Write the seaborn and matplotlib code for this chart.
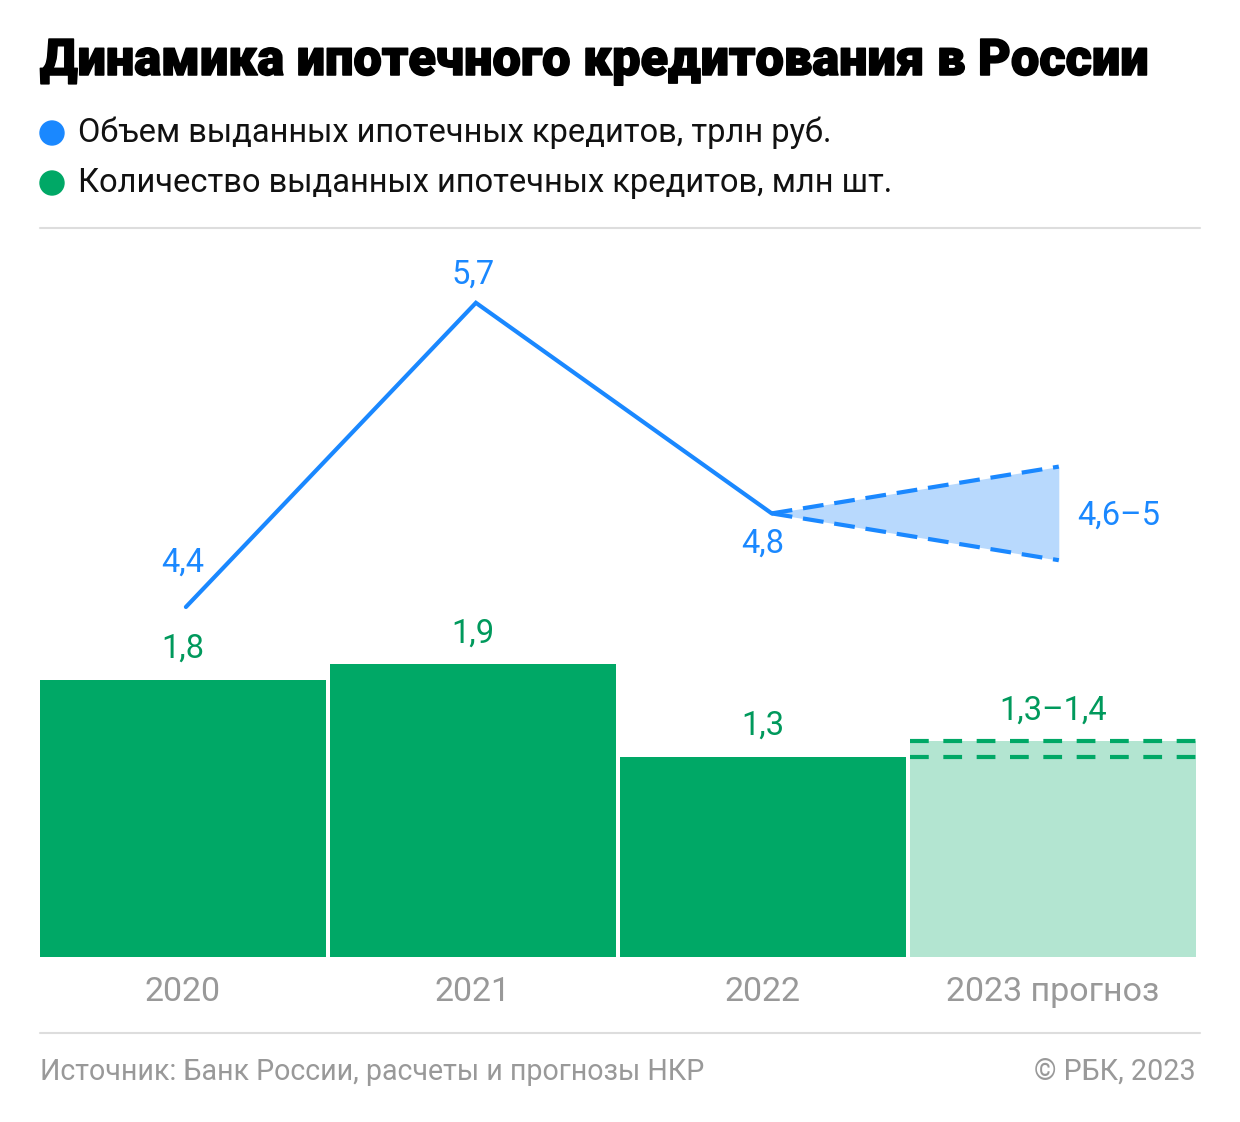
import matplotlib
matplotlib.use("Agg")
import matplotlib.pyplot as plt
import matplotlib.patheffects as pe
import seaborn as sns
import pandas as pd
import numpy as np

# ---- data ----
years = ["2020", "2021", "2022", "2023 прогноз"]
count_mln = [1.8, 1.9, 1.3, 1.4]          # bar heights (forecast upper bound)
count_forecast_low = 1.3
count_forecast_high = 1.4
volume_years = ["2020", "2021", "2022"]
volume_trln = [4.4, 5.7, 4.8]
volume_forecast_low = 4.6
volume_forecast_high = 5.0
count_labels = ["1,8", "1,9", "1,3", "1,3–1,4"]
volume_labels = ["4,4", "5,7", "4,8"]
volume_forecast_label = "4,6–5"

BLUE = "#1a88ff"
BLUE_FILL = "#b8d9fd"
GREEN = "#00a866"
GREEN_TXT = "#00995c"
GREEN_LIGHT = "#b3e5d1"
GREY = "#999999"
RULE = "#dddddd"

sns.set_theme(style="white")
plt.rcParams["font.family"] = ["Roboto", "DejaVu Sans"]

W, H = 1240, 1122
fig = plt.figure(figsize=(W / 100, H / 100), dpi=100)

def fx(px):
    return px / W

def fy(py):
    return 1 - py / H

# axes: x 38..1198 px (4 slots of 290 px), y 228..957 px
ax = fig.add_axes([fx(38), fy(957), fx(1198) - fx(38), fy(228) - fy(957)])
df = pd.DataFrame({"year": years, "count": count_mln})
palette = [GREEN, GREEN, GREEN, GREEN_LIGHT]
sns.barplot(data=df, x="year", y="count", hue="year", palette=palette,
            width=286 / 290, legend=False, ax=ax, saturation=1)
for p in ax.patches:
    p.set_edgecolor("none")
px_per_unit = 154.0
ax.set_ylim(0, (957 - 228) / px_per_unit)
ax.set_xlim(-0.5, 3.5)

# dashed range lines on forecast bar
half = 143 / 290
for v in (count_forecast_low, count_forecast_high):
    ax.hlines(v, 3 - half, 3 + half, colors=GREEN, linestyles=(0, (4.5, 3.5)),
              linewidth=3)

for i, (h, lab) in enumerate(zip(count_mln, count_labels)):
    ax.text(i, h + 0.2, lab, ha="center", va="center", color=GREEN_TXT,
            fontsize=23.5)

ax.set_xlabel("")
ax.set_ylabel("")
ax.set_yticks([])
ax.tick_params(axis="x", length=0, pad=14, labelsize=24.5, labelcolor=GREY)
for s in ax.spines.values():
    s.set_visible(False)

# line axis
ax2 = ax.twinx()
lpx = 234.0
ax2.set_ylim(4.4 - (957 - 607) / lpx, 4.4 + (607 - 228) / lpx)
ldf = pd.DataFrame({"x": [0.01, 1.01, 2.03], "v": volume_trln})
sns.lineplot(data=ldf, x="x", y="v", color=BLUE, linewidth=3, ax=ax2,
             solid_capstyle="round", solid_joinstyle="miter")
x0 = 2.03
xe = 3.02
ax2.fill_between([x0, xe], [volume_trln[-1], volume_forecast_high],
                 [volume_trln[-1], volume_forecast_low], color=BLUE_FILL,
                 linewidth=0)
for v in (volume_forecast_low, volume_forecast_high):
    ax2.plot([x0, xe], [volume_trln[-1], v], color=BLUE, linewidth=3,
             linestyle=(0, (5, 2.6)))
ax2.set_xlim(-0.5, 3.5)
ax2.set_yticks([])
ax2.set_ylabel("")
for s in ax2.spines.values():
    s.set_visible(False)

offsets = [0.19, 0.12, -0.13]
for i, (v, lab, o) in enumerate(zip(volume_trln, volume_labels, offsets)):
    ax2.text(i, v + o, lab, ha="center", va="center", color=BLUE, fontsize=23.5)
ax2.text(xe + 0.065, (volume_forecast_low + volume_forecast_high) / 2 - 0.01,
         volume_forecast_label, ha="left", va="center", color=BLUE, fontsize=23.5)

# title & legend
fig.text(fx(40), fy(61), "Динамика ипотечного кредитования в России",
         ha="left", va="center", fontsize=36.4, fontweight="black",
         color="black",
         path_effects=[pe.withStroke(linewidth=1.1, foreground="black")])
legend_items = [(BLUE, "Объем выданных ипотечных кредитов, трлн руб.", 133),
                (GREEN, "Количество выданных ипотечных кредитов, млн шт.", 183)]
for col, txt, y in legend_items:
    fig.patches.append(matplotlib.patches.Ellipse((fx(52), fy(y)), 24 / W, 24 / H,
                                                  transform=fig.transFigure,
                                                  color=col))
    fig.text(fx(78), fy(y), txt, ha="left", va="center", fontsize=23.5,
             color="#111111")

# rules
for y in (228, 1033):
    fig.add_artist(matplotlib.lines.Line2D([fx(40), fx(1200)], [fy(y), fy(y)],
                                           color=RULE, linewidth=1.5))

fig.text(fx(40), fy(1072), "Источник: Банк России, расчеты и прогнозы НКР",
         ha="left", va="center", fontsize=20.6, color=GREY)
fig.text(fx(1196), fy(1072), "© РБК, 2023", ha="right", va="center",
         fontsize=20.6, color=GREY)

fig.savefig("out.png", dpi=100, facecolor="white")
